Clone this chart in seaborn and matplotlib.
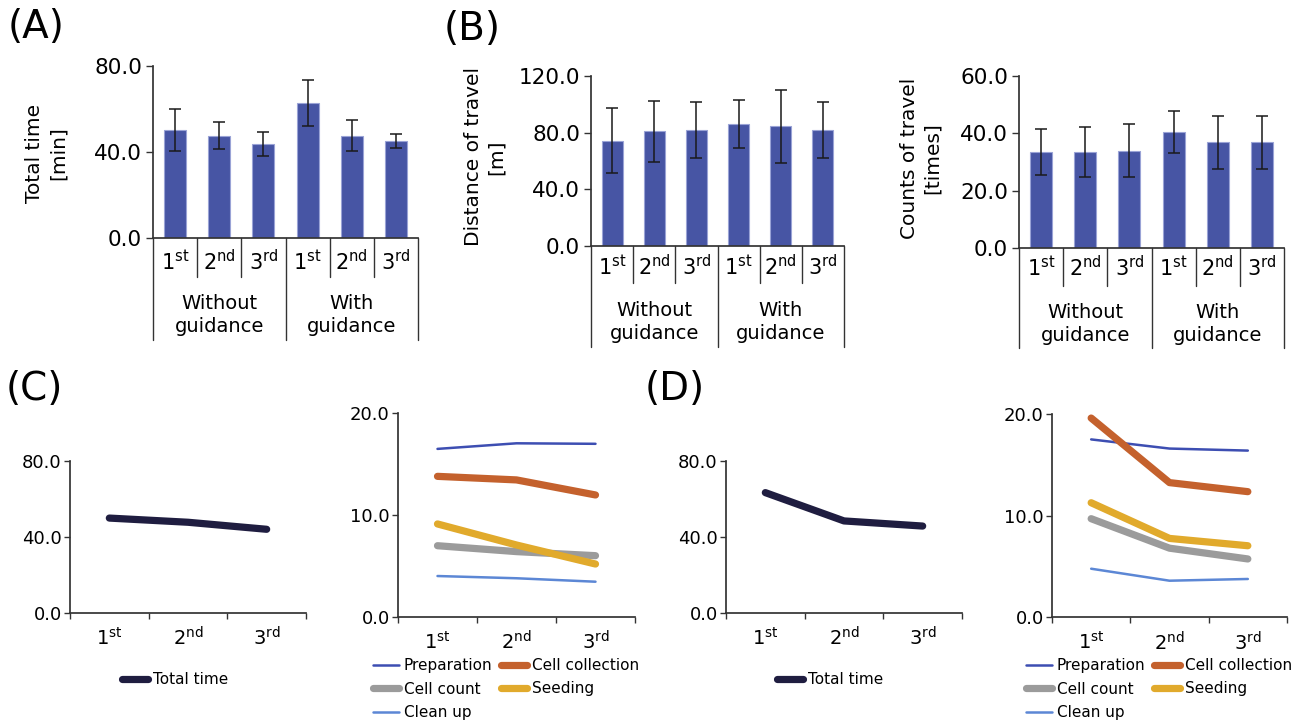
import matplotlib
matplotlib.use("Agg")
import matplotlib.pyplot as plt
import matplotlib.transforms as mtransforms
import pandas as pd
import seaborn as sns

# category labels
rounds = ["1$^{\\mathrm{st}}$", "2$^{\\mathrm{nd}}$", "3$^{\\mathrm{rd}}$"]
groups = ["Without\nguidance", "With\nguidance"]

# (A) total time [min], 3 rounds without guidance then 3 with guidance
time_mean = [50.2, 47.6, 43.7, 62.6, 47.6, 45.1]
time_sd = [9.7, 6.2, 5.6, 10.7, 7.3, 3.1]
# (B) distance of travel [m]
dist_mean = [74.3, 81.0, 81.9, 86.1, 84.5, 81.9]
dist_sd = [22.9, 21.4, 19.5, 17.0, 25.8, 19.5]
# (B) counts of travel [times]
count_mean = [33.6, 33.6, 34.0, 40.5, 36.9, 36.9]
count_sd = [8.1, 8.8, 9.2, 7.2, 9.2, 9.2]

# (C) without guidance, per round
total_without = [49.8, 47.6, 43.9]
prep_without = [16.5, 17.05, 17.0]
collect_without = [13.8, 13.45, 11.97]
cellcount_without = [6.98, 6.4, 6.0]
seed_without = [9.12, 7.05, 5.18]
clean_without = [4.0, 3.78, 3.44]

# (D) with guidance, per round
total_with = [63.2, 48.3, 45.6]
prep_with = [17.5, 16.6, 16.4]
collect_with = [19.6, 13.25, 12.36]
cellcount_with = [9.7, 6.8, 5.74]
seed_with = [11.27, 7.76, 7.04]
clean_with = [4.78, 3.6, 3.77]

task_names = ["Preparation", "Cell collection", "Cell count", "Seeding", "Clean up"]
task_colors = ["#3d4eb2", "#c4612d", "#9b9b9b", "#e1aa2c", "#5c87d5"]
task_widths = [1.8, 5.2, 5.2, 5.2, 1.8]

W, H = 1303, 722
BAR = "#4755a4"
AX_COL = "#333333"

sns.set_theme(style="ticks")
plt.rcParams["font.family"] = ["DejaVu Sans"]
plt.rcParams["text.color"] = "black"
plt.rcParams["axes.edgecolor"] = AX_COL
plt.rcParams["xtick.color"] = AX_COL
plt.rcParams["ytick.color"] = AX_COL
plt.rcParams["xtick.labelcolor"] = "black"
plt.rcParams["ytick.labelcolor"] = "black"


def px_axes(fig, x0, x1, ytop, ybot):
    return fig.add_axes([x0 / W, 1 - ybot / H, (x1 - x0) / W, (ybot - ytop) / H])


def bar_panel(fig, box, means, sds, yticks, ylabel, label_xy, cat_y, grp_y, inner_y, outer_y):
    x0, x1, yt, yb = box
    ax = px_axes(fig, *box)
    df = pd.DataFrame({"slot": list(range(6)), "value": means})
    sns.barplot(data=df, x="slot", y="value", color=BAR, saturation=1, width=0.5,
                errorbar=None, edgecolor="#9aa3d6", linewidth=0.8, ax=ax)
    ax.errorbar(range(6), means, yerr=sds, fmt="none", ecolor="#1a1a1a",
                elinewidth=1.1, capsize=4, capthick=1.1, zorder=3)
    ax.set_xlim(-0.5, 5.5)
    ax.set_ylim(0, yticks[-1])
    ax.set_yticks(yticks)
    ax.yaxis.set_major_formatter("{x:.1f}")
    ax.set_xticks([])
    ax.set_xlabel("")
    ax.set_ylabel("")
    sns.despine(ax=ax)
    ax.tick_params(axis="y", length=5, width=1, labelsize=15.5, pad=3)

    hgt = yb - yt
    tr = mtransforms.blended_transform_factory(ax.transData, ax.transAxes)
    for b in [-0.5, 0.5, 1.5, 2.5, 3.5, 4.5, 5.5]:
        low = outer_y if b in (-0.5, 2.5, 5.5) else inner_y
        ax.plot([b, b], [0, -(low - yb) / hgt], transform=tr, color=AX_COL, lw=1, clip_on=False)
    for i in range(6):
        ax.text(i, -(cat_y - yb) / hgt, rounds[i % 3], transform=tr,
                ha="center", va="center", fontsize=15)
    for g in range(2):
        ax.text(1 + 3 * g, -(grp_y - yb) / hgt, groups[g], transform=tr,
                ha="center", va="center", fontsize=14, linespacing=1.3)
    fig.text(label_xy[0] / W, 1 - label_xy[1] / H, ylabel, rotation=90,
             ha="center", va="center", fontsize=14.5, linespacing=1.3)
    return ax


def line_panel(fig, box, series, yticks, legend_xy, order):
    ax = px_axes(fig, *box)
    for name, vals, color, lw in series:
        sns.lineplot(x=[0, 1, 2], y=vals, color=color, linewidth=lw,
                     solid_capstyle="round", label=name, ax=ax)
    ax.set_xlim(-0.5, 2.5)
    ax.set_ylim(0, yticks[-1])
    ax.set_yticks(yticks)
    ax.yaxis.set_major_formatter("{x:.1f}")
    ax.set_xticks([0, 1, 2], rounds)
    ax.set_xticks([-0.5, 0.5, 1.5, 2.5], minor=True)
    ax.tick_params(axis="x", which="major", length=0, labelsize=14, pad=10)
    ax.tick_params(axis="x", which="minor", length=4, width=1)
    ax.tick_params(axis="y", length=4, width=1, labelsize=13, pad=2)
    ax.set_xlabel("")
    ax.set_ylabel("")
    sns.despine(ax=ax)

    handles, labels = ax.get_legend_handles_labels()
    handles = [handles[i] for i in order]
    labels = [labels[i] for i in order]
    ax.legend(handles, labels, loc="center left",
              bbox_to_anchor=(legend_xy[0] / W, 1 - legend_xy[1] / H),
              bbox_transform=fig.transFigure, ncol=2 if len(labels) > 1 else 1,
              frameon=False, fontsize=11, borderpad=0, borderaxespad=0,
              handlelength=1.7, handletextpad=0.3, labelspacing=0.55, columnspacing=0.6)
    return ax


fig = plt.figure(figsize=(W / 100, H / 100), dpi=100)

bar_panel(fig, (153, 418, 66, 238), time_mean, time_sd, [0, 40, 80],
          "Total time\n[min]", (46, 153), 262, 315, 277, 340)
bar_panel(fig, (591, 844, 76, 246), dist_mean, dist_sd, [0, 40, 80, 120],
          "Distance of travel\n[m]", (485, 157), 267, 322, 283, 347)
bar_panel(fig, (1019, 1284, 76.3, 247.7), count_mean, count_sd, [0, 20, 40, 60],
          "Counts of travel\n[times]", (921, 158), 268, 324, 286, 348)

total_color = "#1f1d40"
line_panel(fig, (70, 306, 460.7, 612.7),
           [("Total time", total_without, total_color, 5.2)], [0, 40, 80], (122, 680), [0])
line_panel(fig, (398, 635, 413.3, 616.7),
           list(zip(task_names, [prep_without, collect_without, cellcount_without, seed_without, clean_without],
                    task_colors, task_widths)),
           [0, 10, 20], (373, 689), [0, 2, 4, 1, 3])
line_panel(fig, (726, 962, 460.7, 612.7),
           [("Total time", total_with, total_color, 5.2)], [0, 40, 80], (777, 680), [0])
line_panel(fig, (1052, 1287, 414, 617.3),
           list(zip(task_names, [prep_with, collect_with, cellcount_with, seed_with, clean_with],
                    task_colors, task_widths)),
           [0, 10, 20], (1026, 689), [0, 2, 4, 1, 3])

for letter, (lx, ly) in {"(A)": (8, 8), "(B)": (444, 10), "(C)": (6, 370), "(D)": (645, 370)}.items():
    fig.text(lx / W, 1 - ly / H, letter, ha="left", va="top", fontsize=28)

fig.savefig("out.png", dpi=100)
plt.close(fig)
